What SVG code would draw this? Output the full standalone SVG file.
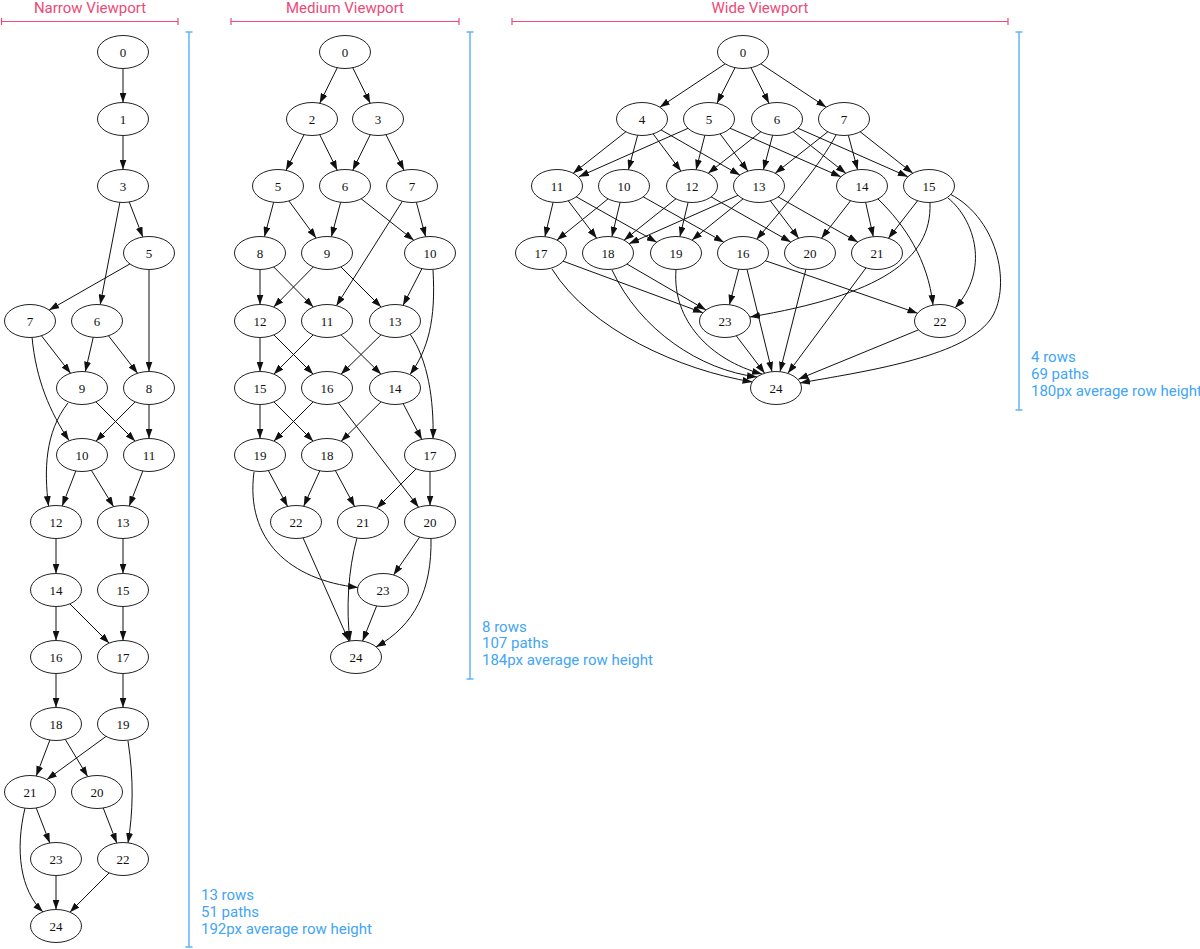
<svg xmlns="http://www.w3.org/2000/svg" width="1200" height="949" viewBox="0 0 1200 949">
<style>
.node ellipse{fill:#fff;stroke:#222;stroke-width:1}
.node text{font-family:"Liberation Serif","Times New Roman",serif;font-size:13px;text-anchor:middle;fill:#111}
.edges path{fill:none;stroke:#111;stroke-width:1;marker-end:url(#arrow)}
.vp{stroke:#EC4A78;stroke-width:1.2;fill:none}
.vpt{font-family:Roboto,"Liberation Sans",sans-serif;font-size:15px;fill:#EC4A78;text-anchor:middle}
.rl{stroke:#64B5F6;stroke-width:1.5;fill:none}
.rt{font-family:Roboto,"Liberation Sans",sans-serif;font-size:15px;fill:#42A5F5}
</style>
<defs>
<marker id="arrow" viewBox="0 0 10 7" refX="10" refY="3.5" markerWidth="10" markerHeight="7" markerUnits="userSpaceOnUse" orient="auto">
<path d="M0,0 L10,3.5 L0,7 z" fill="#111"/>
</marker>
</defs>
<rect width="1200" height="949" fill="#fff"/>

<g id="annotations">
<text class="vpt" x="90" y="12.5">Narrow Viewport</text>
<path class="vp" d="M1.5,21.5 H178 M1.5,18 V25 M178,18 V25"/>
<text class="vpt" x="345" y="12.5">Medium Viewport</text>
<path class="vp" d="M231,21.5 H459 M231,18 V25 M459,18 V25"/>
<text class="vpt" x="760" y="12.5">Wide Viewport</text>
<path class="vp" d="M512,21.5 H1008 M512,18 V25 M1008,18 V25"/>

<path class="rl" d="M189,32 V947 M185.5,32 H192.5 M185.5,947 H192.5"/>
<text class="rt" x="201" y="900">13 rows</text>
<text class="rt" x="201" y="917">51 paths</text>
<text class="rt" x="201" y="934">192px average row height</text>

<path class="rl" d="M470,32 V679 M466.5,32 H473.5 M466.5,679 H473.5"/>
<text class="rt" x="482" y="632">8 rows</text>
<text class="rt" x="482" y="648">107 paths</text>
<text class="rt" x="482" y="665">184px average row height</text>

<path class="rl" d="M1019,32 V410 M1015.5,32 H1022.5 M1015.5,410 H1022.5"/>
<text class="rt" x="1031" y="362">4 rows</text>
<text class="rt" x="1031" y="379">69 paths</text>
<text class="rt" x="1031" y="396">180px average row height</text>
</g>

<g id="connectors" class="edges">
<!-- narrow -->
<path d="M123,52 L123,102.5"/>
<path d="M123,119 L123,169.5"/>
<path d="M123,186 L142.8,237"/>
<path d="M123,186 L100.2,304.6"/>
<path d="M149,253 L49.1,310.1"/>
<path d="M149,253 L149,371.5"/>
<path d="M30,321 L70.6,373.3"/>
<path d="M32,337 C36,380 50,412 69,440.5"/>
<path d="M97,321 L85.3,371.7"/>
<path d="M97,321 L137.6,373.3"/>
<path d="M68,403 C45,432 44,470 48.5,506"/>
<path d="M82,388 L135.2,441.2"/>
<path d="M149,388 L95.9,441.2"/>
<path d="M149,388 L149,438.5"/>
<path d="M82,455 L62.2,506"/>
<path d="M82,455 L113.6,506.7"/>
<path d="M149,455 L129.2,506"/>
<path d="M56,522 L56,573.5"/>
<path d="M123,522 L123,573.5"/>
<path d="M56,590 L56,640.5"/>
<path d="M56,590 L109.2,643.2"/>
<path d="M123,590 L123,640.5"/>
<path d="M56,657 L56,707.5"/>
<path d="M123,657 L123,707.5"/>
<path d="M56,724 L36.2,776"/>
<path d="M56,724 L87.7,776.6"/>
<path d="M123,724 L46.9,779.6"/>
<path d="M128,741 C134,780 133,812 128,843"/>
<path d="M30,792 L49.8,843"/>
<path d="M25,808 C15,850 20,890 43,912"/>
<path d="M97,792 L116.8,843"/>
<path d="M56,859 L56,909.5"/>
<path d="M123,859 L69.9,912.2"/>
<!-- medium -->
<path d="M345,52 L319.7,103.3"/>
<path d="M345,52 L370.3,103.3"/>
<path d="M312,119 L286,170.3"/>
<path d="M312,119 L337.3,170.3"/>
<path d="M378,119 L352.7,170.3"/>
<path d="M378,119 L404,170.3"/>
<path d="M278,186 L264.4,236.8"/>
<path d="M278,186 L316.1,238.1"/>
<path d="M345,186 L331.4,236.8"/>
<path d="M345,186 L413.8,240.3"/>
<path d="M412,186 L425.6,236.8"/>
<path d="M412,186 L336.4,305.7"/>
<path d="M260,253 L260,304.5"/>
<path d="M260,253 L313.3,307.1"/>
<path d="M327,253 L273.7,307.1"/>
<path d="M327,253 L381.1,307.1"/>
<path d="M430,253 L403,305.4"/>
<path d="M433,270 C436,320 428,350 410,374.5"/>
<path d="M260,321 L260,371.5"/>
<path d="M260,321 L313.2,374.2"/>
<path d="M327,321 L273.8,374.2"/>
<path d="M327,321 L381.1,374.3"/>
<path d="M395,321 L340.9,374.3"/>
<path d="M410,334 C428,360 434,400 433,438.8"/>
<path d="M260,388 L260,438.5"/>
<path d="M260,388 L313.2,441.2"/>
<path d="M327,388 L273.8,441.2"/>
<path d="M327,388 L418.6,507.2"/>
<path d="M395,388 L341.1,441.3"/>
<path d="M395,388 L421.8,439.4"/>
<path d="M260,455 L287.6,506.4"/>
<path d="M254,472 C245,540 290,580 358,587.5"/>
<path d="M327,455 L303.7,506.2"/>
<path d="M327,455 L354.6,506.4"/>
<path d="M430,455 L376.8,508.2"/>
<path d="M430,455 L430,505.5"/>
<path d="M296,522 L348.9,641.1"/>
<path d="M357,538 C348,570 346,610 350,641"/>
<path d="M430,522 L393.6,574.9"/>
<path d="M431,538 C432,590 415,625 376,647"/>
<path d="M383,590 L362.6,641"/>
<!-- wide -->
<path d="M743,52 L659.8,107.2"/>
<path d="M743,52 L717,103.3"/>
<path d="M743,52 L769,103.3"/>
<path d="M743,52 L826.2,107.2"/>
<path d="M642,119 L573.2,173.3"/>
<path d="M642,119 L628.4,169.8"/>
<path d="M642,119 L680.9,171.1"/>
<path d="M642,119 L739.9,175.1"/>
<path d="M709,119 L578.9,176.7"/>
<path d="M709,119 L696.1,169.7"/>
<path d="M709,119 L747.9,171.1"/>
<path d="M709,119 L840.9,176.8"/>
<path d="M777,119 L708.2,173.3"/>
<path d="M777,119 L763.4,169.8"/>
<path d="M777,119 L845.8,173.3"/>
<path d="M777,119 L907.9,176.7"/>
<path d="M844,119 L775.2,173.3"/>
<path d="M844,119 L857.6,169.8"/>
<path d="M844,119 L912.8,173.3"/>
<path d="M836,135 C820,165 790,200 756.5,239.5"/>
<path d="M557,186 L544.9,236.7"/>
<path d="M557,186 L596.7,238.2"/>
<path d="M557,186 L656.8,242.2"/>
<path d="M624,186 L557,240.1"/>
<path d="M624,186 L611.9,236.7"/>
<path d="M624,186 L723.8,242.2"/>
<path d="M692,186 L624,240.2"/>
<path d="M692,186 L679.9,236.7"/>
<path d="M692,186 L790.8,242.1"/>
<path d="M759,186 L629,243.7"/>
<path d="M759,186 L692,240.1"/>
<path d="M759,186 L798.7,238.2"/>
<path d="M759,186 L857.8,242.1"/>
<path d="M862,186 L821.4,238.3"/>
<path d="M862,186 L873.3,236.7"/>
<path d="M878,199 C905,225 928,260 933,305"/>
<path d="M929,186 L888.4,238.3"/>
<path d="M930,203 C932,260 880,295 750,317"/>
<path d="M948,198 C975,220 990,270 955,308"/>
<path d="M950,194 C1000,220 1012,290 990,320 C962,358 860,372 800,383"/>
<path d="M541,253 L702.9,312.8"/>
<path d="M552,269 C590,330 680,370 752.5,382"/>
<path d="M608,253 L706,310"/>
<path d="M612,270 C640,330 700,370 757,377"/>
<path d="M676,270 C672,320 710,360 762,374"/>
<path d="M743,253 L729.4,304.8"/>
<path d="M743,253 L772,371.7"/>
<path d="M743,253 L917.5,313.2"/>
<path d="M810,253 L780,371.7"/>
<path d="M877,253 L787.9,373.2"/>
<path d="M940,321 L798.4,379.2"/>
<path d="M725,321 L764.7,373.2"/>
</g>

<g id="narrow-nodes">
<g id="n0" class="node"><ellipse cx="123" cy="52" rx="25.5" ry="16.5"/><text x="123" y="56.5">0</text></g>
<g id="n1" class="node"><ellipse cx="123" cy="119" rx="25.5" ry="16.5"/><text x="123" y="123.5">1</text></g>
<g id="n3" class="node"><ellipse cx="123" cy="186" rx="25.5" ry="16.5"/><text x="123" y="190.5">3</text></g>
<g id="n5" class="node"><ellipse cx="149" cy="253" rx="25.5" ry="16.5"/><text x="149" y="257.5">5</text></g>
<g id="n7" class="node"><ellipse cx="30" cy="321" rx="25.5" ry="16.5"/><text x="30" y="325.5">7</text></g>
<g id="n6" class="node"><ellipse cx="97" cy="321" rx="25.5" ry="16.5"/><text x="97" y="325.5">6</text></g>
<g id="n9" class="node"><ellipse cx="82" cy="388" rx="25.5" ry="16.5"/><text x="82" y="392.5">9</text></g>
<g id="n8" class="node"><ellipse cx="149" cy="388" rx="25.5" ry="16.5"/><text x="149" y="392.5">8</text></g>
<g id="n10" class="node"><ellipse cx="82" cy="455" rx="25.5" ry="16.5"/><text x="82" y="459.5">10</text></g>
<g id="n11" class="node"><ellipse cx="149" cy="455" rx="25.5" ry="16.5"/><text x="149" y="459.5">11</text></g>
<g id="n12" class="node"><ellipse cx="56" cy="522" rx="25.5" ry="16.5"/><text x="56" y="526.5">12</text></g>
<g id="n13" class="node"><ellipse cx="123" cy="522" rx="25.5" ry="16.5"/><text x="123" y="526.5">13</text></g>
<g id="n14" class="node"><ellipse cx="56" cy="590" rx="25.5" ry="16.5"/><text x="56" y="594.5">14</text></g>
<g id="n15" class="node"><ellipse cx="123" cy="590" rx="25.5" ry="16.5"/><text x="123" y="594.5">15</text></g>
<g id="n16" class="node"><ellipse cx="56" cy="657" rx="25.5" ry="16.5"/><text x="56" y="661.5">16</text></g>
<g id="n17" class="node"><ellipse cx="123" cy="657" rx="25.5" ry="16.5"/><text x="123" y="661.5">17</text></g>
<g id="n18" class="node"><ellipse cx="56" cy="724" rx="25.5" ry="16.5"/><text x="56" y="728.5">18</text></g>
<g id="n19" class="node"><ellipse cx="123" cy="724" rx="25.5" ry="16.5"/><text x="123" y="728.5">19</text></g>
<g id="n21" class="node"><ellipse cx="30" cy="792" rx="25.5" ry="16.5"/><text x="30" y="796.5">21</text></g>
<g id="n20" class="node"><ellipse cx="97" cy="792" rx="25.5" ry="16.5"/><text x="97" y="796.5">20</text></g>
<g id="n23" class="node"><ellipse cx="56" cy="859" rx="25.5" ry="16.5"/><text x="56" y="863.5">23</text></g>
<g id="n22" class="node"><ellipse cx="123" cy="859" rx="25.5" ry="16.5"/><text x="123" y="863.5">22</text></g>
<g id="n24" class="node"><ellipse cx="56" cy="926" rx="25.5" ry="16.5"/><text x="56" y="930.5">24</text></g>
</g>

<g id="medium-nodes">
<g id="m0" class="node"><ellipse cx="345" cy="52" rx="25.5" ry="16.5"/><text x="345" y="56.5">0</text></g>
<g id="m2" class="node"><ellipse cx="312" cy="119" rx="25.5" ry="16.5"/><text x="312" y="123.5">2</text></g>
<g id="m3" class="node"><ellipse cx="378" cy="119" rx="25.5" ry="16.5"/><text x="378" y="123.5">3</text></g>
<g id="m5" class="node"><ellipse cx="278" cy="186" rx="25.5" ry="16.5"/><text x="278" y="190.5">5</text></g>
<g id="m6" class="node"><ellipse cx="345" cy="186" rx="25.5" ry="16.5"/><text x="345" y="190.5">6</text></g>
<g id="m7" class="node"><ellipse cx="412" cy="186" rx="25.5" ry="16.5"/><text x="412" y="190.5">7</text></g>
<g id="m8" class="node"><ellipse cx="260" cy="253" rx="25.5" ry="16.5"/><text x="260" y="257.5">8</text></g>
<g id="m9" class="node"><ellipse cx="327" cy="253" rx="25.5" ry="16.5"/><text x="327" y="257.5">9</text></g>
<g id="m10" class="node"><ellipse cx="430" cy="253" rx="25.5" ry="16.5"/><text x="430" y="257.5">10</text></g>
<g id="m12" class="node"><ellipse cx="260" cy="321" rx="25.5" ry="16.5"/><text x="260" y="325.5">12</text></g>
<g id="m11" class="node"><ellipse cx="327" cy="321" rx="25.5" ry="16.5"/><text x="327" y="325.5">11</text></g>
<g id="m13" class="node"><ellipse cx="395" cy="321" rx="25.5" ry="16.5"/><text x="395" y="325.5">13</text></g>
<g id="m15" class="node"><ellipse cx="260" cy="388" rx="25.5" ry="16.5"/><text x="260" y="392.5">15</text></g>
<g id="m16" class="node"><ellipse cx="327" cy="388" rx="25.5" ry="16.5"/><text x="327" y="392.5">16</text></g>
<g id="m14" class="node"><ellipse cx="395" cy="388" rx="25.5" ry="16.5"/><text x="395" y="392.5">14</text></g>
<g id="m19" class="node"><ellipse cx="260" cy="455" rx="25.5" ry="16.5"/><text x="260" y="459.5">19</text></g>
<g id="m18" class="node"><ellipse cx="327" cy="455" rx="25.5" ry="16.5"/><text x="327" y="459.5">18</text></g>
<g id="m17" class="node"><ellipse cx="430" cy="455" rx="25.5" ry="16.5"/><text x="430" y="459.5">17</text></g>
<g id="m22" class="node"><ellipse cx="296" cy="522" rx="25.5" ry="16.5"/><text x="296" y="526.5">22</text></g>
<g id="m21" class="node"><ellipse cx="363" cy="522" rx="25.5" ry="16.5"/><text x="363" y="526.5">21</text></g>
<g id="m20" class="node"><ellipse cx="430" cy="522" rx="25.5" ry="16.5"/><text x="430" y="526.5">20</text></g>
<g id="m23" class="node"><ellipse cx="383" cy="590" rx="25.5" ry="16.5"/><text x="383" y="594.5">23</text></g>
<g id="m24" class="node"><ellipse cx="356" cy="657" rx="25.5" ry="16.5"/><text x="356" y="661.5">24</text></g>
</g>

<g id="wide-nodes">
<g id="w0" class="node"><ellipse cx="743" cy="52" rx="25.5" ry="16.5"/><text x="743" y="56.5">0</text></g>
<g id="w4" class="node"><ellipse cx="642" cy="119" rx="25.5" ry="16.5"/><text x="642" y="123.5">4</text></g>
<g id="w5" class="node"><ellipse cx="709" cy="119" rx="25.5" ry="16.5"/><text x="709" y="123.5">5</text></g>
<g id="w6" class="node"><ellipse cx="777" cy="119" rx="25.5" ry="16.5"/><text x="777" y="123.5">6</text></g>
<g id="w7" class="node"><ellipse cx="844" cy="119" rx="25.5" ry="16.5"/><text x="844" y="123.5">7</text></g>
<g id="w11" class="node"><ellipse cx="557" cy="186" rx="25.5" ry="16.5"/><text x="557" y="190.5">11</text></g>
<g id="w10" class="node"><ellipse cx="624" cy="186" rx="25.5" ry="16.5"/><text x="624" y="190.5">10</text></g>
<g id="w12" class="node"><ellipse cx="692" cy="186" rx="25.5" ry="16.5"/><text x="692" y="190.5">12</text></g>
<g id="w13" class="node"><ellipse cx="759" cy="186" rx="25.5" ry="16.5"/><text x="759" y="190.5">13</text></g>
<g id="w14" class="node"><ellipse cx="862" cy="186" rx="25.5" ry="16.5"/><text x="862" y="190.5">14</text></g>
<g id="w15" class="node"><ellipse cx="929" cy="186" rx="25.5" ry="16.5"/><text x="929" y="190.5">15</text></g>
<g id="w17" class="node"><ellipse cx="541" cy="253" rx="25.5" ry="16.5"/><text x="541" y="257.5">17</text></g>
<g id="w18" class="node"><ellipse cx="608" cy="253" rx="25.5" ry="16.5"/><text x="608" y="257.5">18</text></g>
<g id="w19" class="node"><ellipse cx="676" cy="253" rx="25.5" ry="16.5"/><text x="676" y="257.5">19</text></g>
<g id="w16" class="node"><ellipse cx="743" cy="253" rx="25.5" ry="16.5"/><text x="743" y="257.5">16</text></g>
<g id="w20" class="node"><ellipse cx="810" cy="253" rx="25.5" ry="16.5"/><text x="810" y="257.5">20</text></g>
<g id="w21" class="node"><ellipse cx="877" cy="253" rx="25.5" ry="16.5"/><text x="877" y="257.5">21</text></g>
<g id="w23" class="node"><ellipse cx="725" cy="321" rx="25.5" ry="16.5"/><text x="725" y="325.5">23</text></g>
<g id="w22" class="node"><ellipse cx="940" cy="321" rx="25.5" ry="16.5"/><text x="940" y="325.5">22</text></g>
<g id="w24" class="node"><ellipse cx="776" cy="388" rx="25.5" ry="16.5"/><text x="776" y="392.5">24</text></g>
</g>
</svg>
